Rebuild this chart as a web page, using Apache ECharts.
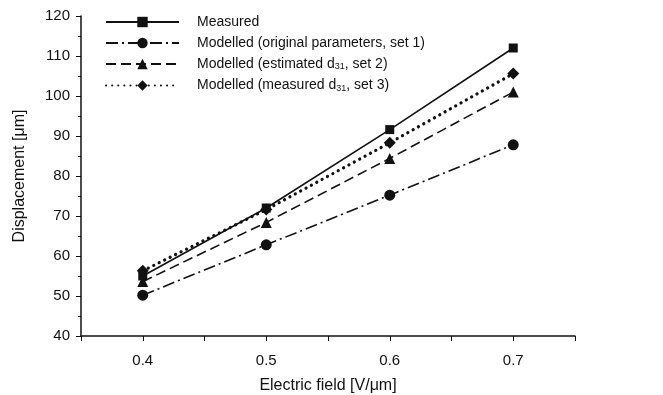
<!DOCTYPE html>
<html>
<head>
<meta charset="utf-8">
<script src="https://cdn.jsdelivr.net/npm/echarts@6/dist/echarts.min.js"></script>
<style>
  html, body { margin: 0; padding: 0; background: #fff; }
  #chart { width: 663px; height: 395px; }
</style>
</head>
<body>
<div id="chart"></div>
<script>
const fields = [0.4, 0.5, 0.6, 0.7];
const measured = [55, 72, 91.6, 112];
const set1 = [50.2, 62.8, 75.2, 87.8];
const set2 = [53.6, 68.4, 84.4, 101];
const set3 = [56.3, 71.6, 88.3, 105.6];
const names = [
  "Measured",
  "Modelled (original parameters, set 1)",
  "Modelled (estimated d{sub|31}, set 2)",
  "Modelled (measured d{sub|31}, set 3)",
];

const font = "Liberation Sans, Arial, sans-serif";
const ink = "#111";

function pairs(vals) {
  return fields.map((x, i) => [x, vals[i]]);
}

function line(name, vals, symbol, size, lineStyle) {
  return {
    name: name,
    type: "line",
    data: pairs(vals),
    symbol: symbol,
    symbolSize: size,
    itemStyle: { color: ink },
    lineStyle: Object.assign({ color: ink, width: 1.6 }, lineStyle),
    animation: false,
  };
}

const chart = echarts.init(document.getElementById("chart"));
chart.setOption({
  textStyle: { fontFamily: font },
  grid: { left: 81, right: 88, top: 16, bottom: 59, outerBoundsMode: "none" },
  legend: {
    left: 100,
    top: 10,
    orient: "vertical",
    itemWidth: 73,
    itemHeight: 13,
    itemGap: 7,
    align: "left",
    textStyle: {
      fontSize: 14,
      color: ink,
      padding: [0, 0, 0, 13],
      rich: { sub: { fontSize: 9, verticalAlign: "bottom", padding: [6, 0, 0, 0] } },
    },
    data: names,
  },
  xAxis: {
    type: "value",
    min: 0.35,
    max: 0.75,
    interval: 0.05,
    name: "Electric field [V/μm]",
    nameLocation: "middle",
    nameGap: 42,
    nameTextStyle: { fontSize: 16, color: ink },
    splitLine: { show: false },
    axisLine: { lineStyle: { color: ink, width: 1.5 } },
    axisTick: { length: 5, lineStyle: { color: ink } },
    axisLabel: {
      fontSize: 15,
      color: ink,
      margin: 17,
      formatter: (v) => {
        const s = v.toFixed(2);
        return s.endsWith("0") ? v.toFixed(1) : "";
      },
    },
  },
  yAxis: {
    type: "value",
    min: 40,
    max: 120,
    interval: 10,
    name: "Displacement [μm]",
    nameLocation: "middle",
    nameGap: 53,
    nameTextStyle: { fontSize: 16, color: ink },
    splitLine: { show: false },
    axisLine: { show: true, lineStyle: { color: ink, width: 1.5 } },
    axisTick: { length: 5, lineStyle: { color: ink } },
    minorTick: { show: true, splitNumber: 2, length: 3, lineStyle: { color: ink } },
    axisLabel: { fontSize: 15, color: ink, margin: 11 },
  },
  series: [
    line(names[0], measured, "rect", 9, { type: "solid" }),
    line(names[1], set1, "circle", 11, { type: [12, 4, 2, 4] }),
    line(names[2], set2, "triangle", 11, { type: [10, 5] }),
    line(names[3], set3, "diamond", 12, { type: [0.1, 6], cap: "round", width: 3.2 }),
  ],
});
</script>
</body>
</html>
